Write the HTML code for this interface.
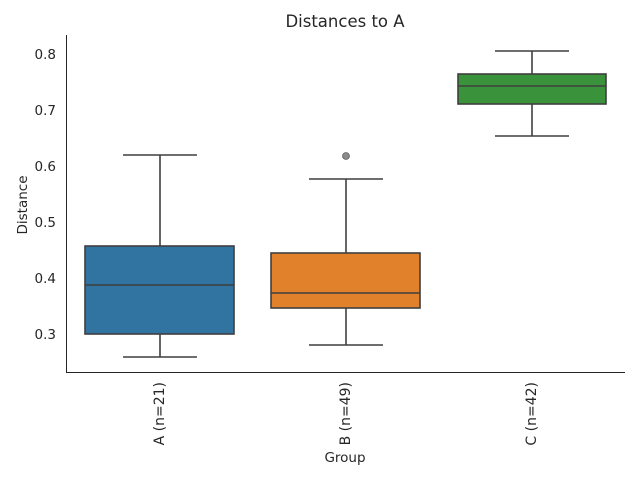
<!DOCTYPE html>
<html><head><style>body{margin:0;background:#fff}</style></head><body>
<svg width="640" height="480" xmlns="http://www.w3.org/2000/svg" font-family="DejaVu Sans, Liberation Sans, sans-serif" fill="#262626">
<rect width="640" height="480" fill="#fff"/>
<line x1="66.5" y1="35" x2="66.5" y2="372.5" stroke="#262626" stroke-width="1"/>
<line x1="66" y1="372.5" x2="625" y2="372.5" stroke="#262626" stroke-width="1"/>
<g font-size="13.5" text-anchor="end">
<text x="56" y="59">0.8</text><text x="56" y="115">0.7</text><text x="56" y="171">0.6</text>
<text x="56" y="227">0.5</text><text x="56" y="283">0.4</text><text x="56" y="339">0.3</text>
</g>
<text x="345" y="27" font-size="16.5" text-anchor="middle">Distances to A</text>
<text x="345" y="462" font-size="13.5" text-anchor="middle">Group</text>
<text transform="translate(27,205) rotate(-90)" font-size="13.5" text-anchor="middle">Distance</text>
<g font-size="14" text-anchor="end">
<text transform="translate(164,382) rotate(-90)">A (n=21)</text>
<text transform="translate(350,382) rotate(-90)">B (n=49)</text>
<text transform="translate(536,382) rotate(-90)">C (n=42)</text>
</g>
<g stroke="#3f3f3f" stroke-width="1.6">
<rect x="85" y="246" width="149" height="88" fill="#3274a1"/>
<line x1="85" y1="285" x2="234" y2="285"/>
<line x1="160" y1="246" x2="160" y2="155"/><line x1="160" y1="334" x2="160" y2="357"/>
<line x1="123" y1="155" x2="197" y2="155"/><line x1="123" y1="357" x2="197" y2="357"/>
<rect x="271" y="253" width="149" height="55" fill="#e1812c"/>
<line x1="271" y1="293" x2="420" y2="293"/>
<line x1="346" y1="253" x2="346" y2="179"/><line x1="346" y1="308" x2="346" y2="345"/>
<line x1="309" y1="179" x2="383" y2="179"/><line x1="309" y1="345" x2="383" y2="345"/>
<rect x="458" y="74" width="148" height="30" fill="#3a923a"/>
<line x1="458" y1="86" x2="606" y2="86"/>
<line x1="532" y1="74" x2="532" y2="51"/><line x1="532" y1="104" x2="532" y2="136"/>
<line x1="495" y1="51" x2="569" y2="51"/><line x1="495" y1="136" x2="569" y2="136"/>
</g>
<circle cx="346" cy="156" r="3.5" fill="#8a8a8a" stroke="#3f3f3f" stroke-width="0.6"/>
</svg>
</body></html>
